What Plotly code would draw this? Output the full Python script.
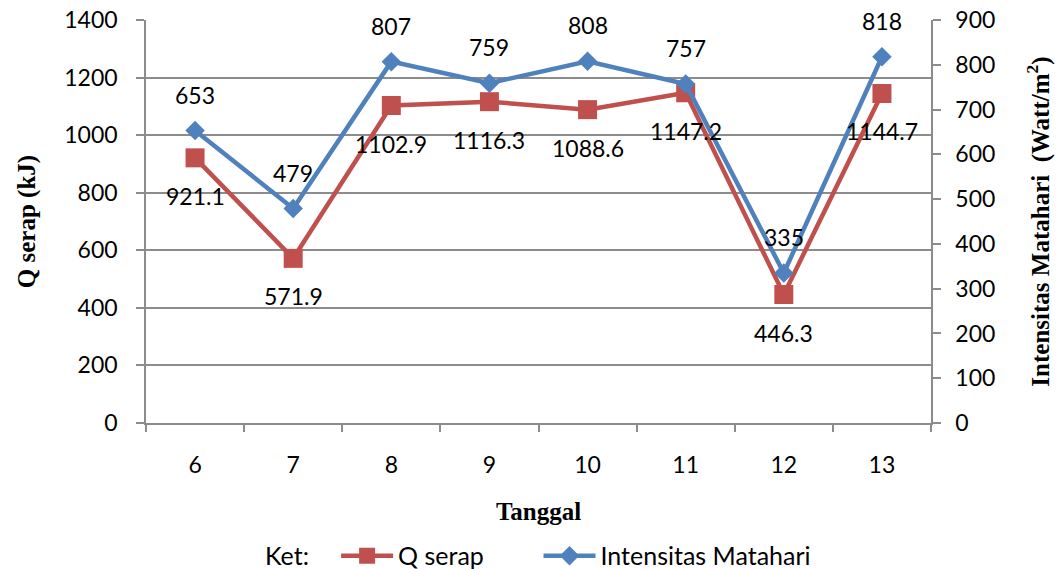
import plotly.graph_objects as go

# Observation dates (day of month)
tanggal = ["6", "7", "8", "9", "10", "11", "12", "13"]
# Absorbed heat, kJ
q_serap = [921.1, 571.9, 1102.9, 1116.3, 1088.6, 1147.2, 446.3, 1144.7]
# Solar intensity, W/m^2
intensitas = [653, 479, 807, 759, 808, 757, 335, 818]

RED = "#C0504D"
BLUE = "#4F81BD"
GRID = "#8C8C8C"
TICK_FONT = dict(family="Lato, 'Open Sans', sans-serif", size=23, color="black")
LEGEND_FONT = dict(family="Lato, 'Open Sans', sans-serif", size=25, color="black")
TITLE_FONT = dict(family="'Liberation Serif', 'Times New Roman', serif", size=25, color="black")

fig = go.Figure()

fig.add_trace(go.Scatter(
    x=tanggal, y=q_serap, name="Q serap", mode="lines+markers",
    line=dict(color=RED, width=4.5),
    marker=dict(symbol="square", size=19, color=RED),
    yaxis="y", legend="legend",
))
fig.add_trace(go.Scatter(
    x=tanggal, y=intensitas, name="Intensitas Matahari", mode="lines+markers",
    line=dict(color=BLUE, width=4.5),
    marker=dict(symbol="diamond", size=15, color=BLUE),
    yaxis="y2", legend="legend2",
))

# Value labels: Q serap below its markers, intensity above.
# Category positions are given by index so numeric-looking labels are not misread.
annotations = []
for i, v in enumerate(q_serap):
    annotations.append(dict(x=i, y=v, xref="x", yref="y", text=f"{v:.1f}",
                            showarrow=False, yshift=-38, font=TICK_FONT))
for i, v in enumerate(intensitas):
    annotations.append(dict(x=i, y=v, xref="x", yref="y2", text=f"{v}",
                            showarrow=False, yshift=36, font=TICK_FONT))

legend_common = dict(
    orientation="h", yanchor="middle", y=-0.33,
    font=LEGEND_FONT, bgcolor="rgba(0,0,0,0)", itemwidth=52,
)

fig.update_layout(
    width=1059, height=569,
    margin=dict(l=146, r=128, t=20, b=146, autoexpand=False),
    paper_bgcolor="white", plot_bgcolor="white",
    font=TICK_FONT,
    annotations=annotations,
    showlegend=True,
    legend=dict(x=0.149, xanchor="left",
                title=dict(text="Ket:   ", side="left", font=LEGEND_FONT),
                **legend_common),
    legend2=dict(x=0.5, xanchor="left", **legend_common),
    xaxis=dict(
        type="category", range=[-0.5, 7.5], automargin=False,
        showline=True, linecolor=GRID, linewidth=1.5,
        ticks="outside", tickson="boundaries", ticklen=7, tickcolor=GRID, tickwidth=1.5,
        showgrid=False, zeroline=False,
        tickfont=TICK_FONT, ticklabelstandoff=21,
        title=dict(text="<b>Tanggal</b>", font=TITLE_FONT, standoff=25),
    ),
    yaxis=dict(
        range=[0, 1400], dtick=200, tick0=0, automargin=False,
        showline=True, linecolor=GRID, linewidth=1.5,
        ticks="outside", ticklen=8, tickcolor=GRID, tickwidth=1.5,
        showgrid=True, gridcolor=GRID, gridwidth=1.5, zeroline=False,
        tickfont=TICK_FONT, ticklabelstandoff=14,
        title=dict(text="<b>Q serap (kJ)</b>", font=TITLE_FONT, standoff=22),
    ),
    yaxis2=dict(
        range=[0, 900], dtick=100, tick0=0, overlaying="y", side="right",
        automargin=False,
        showline=True, linecolor=GRID, linewidth=1.5,
        ticks="outside", ticklen=8, tickcolor=GRID, tickwidth=1.5,
        showgrid=False, zeroline=False,
        tickfont=TICK_FONT, ticklabelstandoff=10,
        title=dict(text="<b>Intensitas Matahari  (Watt/m<sup>2</sup>)</b>",
                   font=TITLE_FONT, standoff=37),
    ),
)

fig.write_html("out.html")
